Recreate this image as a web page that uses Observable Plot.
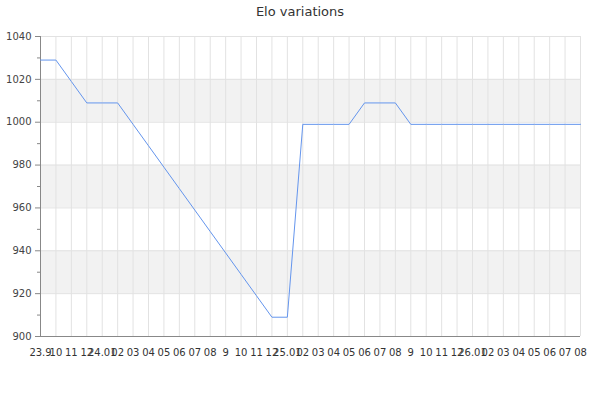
<!DOCTYPE html>
<html>
<head>
<meta charset="utf-8">
<script src="https://cdn.jsdelivr.net/npm/d3@7"></script>
<script src="https://cdn.jsdelivr.net/npm/@observablehq/plot@0.6"></script>
<style>
  body { margin: 0; background: #fff; font-family: "DejaVu Sans", sans-serif; }
  #title { height: 22px; line-height: 24px; text-align: center; font-size: 13px; color: #333; width: 600px; }
</style>
</head>
<body>
<div id="title">Elo variations</div>
<div id="chart"></div>
<script>
// x tick labels (one per match / period)
const labels = ["23.9", "10", "11", "12", "24.01", "02", "03", "04", "05", "06", "07", "08",
  "9", "10", "11", "12", "25.01", "02", "03", "04", "05", "06", "07", "08",
  "9", "10", "11", "12", "26.01", "02", "03", "04", "05", "06", "07", "08"];
const elo = [1029, 1029, 1019, 1009, 1009, 1009, 999, 989, 979, 969, 959, 949, 939, 929, 919, 909,
  909, 999, 999, 999, 999, 1009, 1009, 1009, 999, 999, 999, 999, 999, 999, 999, 999, 999, 999, 999, 999];
const yTicks = [900, 920, 940, 960, 980, 1000, 1020, 1040];
const yMinor = [910, 930, 950, 970, 990, 1010, 1030];
const bandLow = [920, 960, 1000];
const bandHigh = [940, 980, 1020];

const data = elo.map((v, i) => ({i, v}));
const idx = labels.map((d, i) => i);
const bands = bandLow.map((lo, k) => ({lo, hi: bandHigh[k]}));

let chart = Plot.plot({
  width: 600,
  height: 378,
  marginTop: 14,
  marginBottom: 64,
  marginLeft: 40,
  marginRight: 20,
  style: {fontFamily: "DejaVu Sans", fontSize: "10px", color: "#333"},
  x: {domain: [0, labels.length - 1]},
  y: {domain: [900, 1040]},
  marks: [
    Plot.rect(bands, {x1: 0, x2: labels.length - 1, y1: "lo", y2: "hi", fill: "#f2f2f2"}),
    Plot.ruleX(idx, {x: d => d, stroke: "#e2e2e2"}),
    Plot.ruleY(yTicks, {stroke: "#e2e2e2"}),
    Plot.axisY({ticks: yMinor, tickSize: 3, text: null, stroke: "#888"}),
    Plot.axisY({ticks: yTicks, tickSize: 5, tickPadding: 4, tickFormat: "d", stroke: "#888", fill: "#444", label: null}),
    Plot.axisX({ticks: idx, tickSize: 0, tickPadding: 12, tickFormat: i => labels[i], fill: "#333", label: null}),
    Plot.ruleX([0], {stroke: "#888"}),
    Plot.ruleY([900], {stroke: "#888"}),
    Plot.line(data, {x: "i", y: "v", stroke: "#6495ed", strokeWidth: 1})
  ]
});
d3.select('#chart').append(() => chart);
</script>
</body>
</html>
